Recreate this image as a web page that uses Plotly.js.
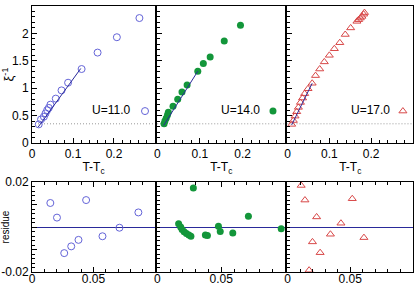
<!DOCTYPE html>
<html><head><meta charset="utf-8">
<script src="https://cdn.plot.ly/plotly-3.0.1.min.js"></script>
<style>body{margin:0;background:#fff;}#plot{width:415px;height:285px;}</style>
</head><body><div id="plot"></div>
<script>
// ---- data: inverse correlation length vs T-Tc ----
const u11_x = [0.0165, 0.022, 0.029, 0.033, 0.037, 0.041, 0.045, 0.058, 0.072, 0.088, 0.121, 0.160, 0.207, 0.262];
const u11_y = [0.34, 0.43, 0.48, 0.54, 0.60, 0.64, 0.70, 0.81, 0.96, 1.10, 1.35, 1.65, 1.93, 2.28];
const u14_x = [0.016, 0.018, 0.021, 0.024, 0.026, 0.037, 0.048, 0.058, 0.070, 0.095, 0.108, 0.124, 0.157, 0.195];
const u14_y = [0.35, 0.40, 0.45, 0.51, 0.56, 0.67, 0.80, 0.93, 1.06, 1.31, 1.45, 1.57, 1.86, 2.15];
const u17_x = [0.010, 0.014, 0.018, 0.022, 0.026, 0.031, 0.036, 0.041, 0.049, 0.059, 0.067, 0.077, 0.088, 0.100, 0.112, 0.125, 0.138, 0.151, 0.166, 0.170, 0.174, 0.178, 0.182, 0.184];
const u17_y = [0.34, 0.41, 0.49, 0.57, 0.65, 0.74, 0.82, 0.90, 0.99, 1.09, 1.23, 1.35, 1.48, 1.60, 1.72, 1.83, 1.98, 2.10, 2.22, 2.25, 2.28, 2.31, 2.35, 2.38];
// fit lines (endpoints)
const fit11_x = [0.015, 0.119]; const fit11_y = [0.29, 1.36];
const fit14_x = [0.015, 0.095]; const fit14_y = [0.32, 1.31];
const fit17_x = [0.010, 0.059]; const fit17_y = [0.33, 1.09];
// residues
const r11_x = [0.0149, 0.0203, 0.0262, 0.0319, 0.0378, 0.044, 0.0573, 0.0711, 0.0865];
const r11_y = [0.0107, 0.0042, -0.0116, -0.0086, -0.0057, 0.012, -0.0041, -0.0003, 0.0065];
const r14_x = [0.0167, 0.0183, 0.0194, 0.021, 0.0228, 0.0247, 0.0263, 0.0282, 0.0376, 0.0392, 0.0478, 0.0492, 0.059, 0.0712, 0.0968];
const r14_y = [0.0015, 0, -0.0011, -0.0021, -0.0029, -0.0035, -0.0041, 0.0174, -0.0035, -0.0038, 0.0003, -0.002, -0.0026, 0.0048, -0.0008];
const r17_x = [0.0109, 0.0139, 0.0232, 0.0516, 0.0426, 0.0342, 0.0609, 0.0199, 0.026, 0.0172];
const r17_y = [0.0185, 0.012, 0.0045, 0.0126, 0.0017, -0.0032, -0.0047, -0.0066, -0.0114, -0.0192];
const labels = ['U=11.0', 'U=14.0', 'U=17.0'];
const topXTicks = [0, 0.1, 0.2, 0.3], topXText = ['0', '0.1', '0.2', ''];
const topYTicks = [0, 0.5, 1, 1.5, 2, 2.5], topYText = ['0', '0.5', '1', '1.5', '2', '2.5'];
const botXTicks = [0, 0.05, 0.1], botXText = ['0', '0.05', ''];
const botYTicks = [-0.02, -0.01, 0, 0.01, 0.02], botYText = ['-0.02', '', '', '', '0.02'];
const critLevel = 0.35;

const blue = '#6464d8', green = '#13963a', red = '#d84848', navy = '#2a2a9a';
const mk11 = {symbol: 'circle-open', size: 7, color: blue, line: {width: 1}};
const mk14 = {symbol: 'circle', size: 7, color: green};
const mk17 = {symbol: 'triangle-up-open', size: 7, color: red, line: {width: 1}};

const traces = [
  {x: u11_x, y: u11_y, xaxis: 'x', yaxis: 'y', mode: 'markers', marker: mk11, name: '', legend: 'legend'},
  {x: fit11_x, y: fit11_y, xaxis: 'x', yaxis: 'y', mode: 'lines', line: {color: navy, width: 1}, showlegend: false},
  {x: u14_x, y: u14_y, xaxis: 'x2', yaxis: 'y2', mode: 'markers', marker: mk14, name: '', legend: 'legend2'},
  {x: fit14_x, y: fit14_y, xaxis: 'x2', yaxis: 'y2', mode: 'lines', line: {color: navy, width: 1}, showlegend: false},
  {x: u17_x, y: u17_y, xaxis: 'x3', yaxis: 'y3', mode: 'markers', marker: mk17, name: '', legend: 'legend3'},
  {x: fit17_x, y: fit17_y, xaxis: 'x3', yaxis: 'y3', mode: 'lines', line: {color: navy, width: 1}, showlegend: false},
  {x: r11_x, y: r11_y, xaxis: 'x4', yaxis: 'y4', mode: 'markers', marker: mk11, showlegend: false},
  {x: r14_x, y: r14_y, xaxis: 'x5', yaxis: 'y5', mode: 'markers', marker: mk14, showlegend: false},
  {x: r17_x, y: r17_y, xaxis: 'x6', yaxis: 'y6', mode: 'markers', marker: mk17, showlegend: false}
];

const fam = 'Liberation Sans, Arial, sans-serif';
const font = {family: fam, size: 12, color: '#000'};
const xd = [[0, 0.3228], [0.3287, 0.6648], [0.6706, 1]];
const topD = [0.485, 1], botD = [0, 0.338];
const legX = [0.2441, 0.580, 0.921];
const annX = [0.2625, 0.6037, 0.9449];

function ax(extra) {
  return Object.assign({
    showline: true, linecolor: '#000', linewidth: 1, mirror: true,
    ticks: 'inside', ticklen: 5, tickcolor: '#000', tickwidth: 1,
    showgrid: false, zeroline: false, tickfont: font, fixedrange: true
  }, extra);
}

const layout = {
  width: 415, height: 285,
  margin: {l: 32, r: 2, t: 6, b: 13, autoexpand: false},
  paper_bgcolor: '#fff', plot_bgcolor: '#fff',
  font: font, showlegend: true,
  shapes: [], annotations: []
};
for (let i = 0; i < 3; i++) {
  const s = i === 0 ? '' : String(i + 1);
  const b = String(i + 4);
  layout['xaxis' + s] = ax({domain: xd[i], anchor: 'y' + s, range: [0, 0.3],
    tickvals: topXTicks, ticktext: topXText,
    minor: {dtick: 0.02, ticklen: 3, ticks: 'inside', tickcolor: '#000'},
    title: {text: 'T-T<sub>c</sub>', font: font, standoff: 2}});
  layout['yaxis' + s] = ax({domain: topD, anchor: 'x' + s, range: [0, 2.5],
    tickvals: topYTicks, ticktext: topYText,
    showticklabels: i === 0,
    minor: {dtick: 0.1, ticklen: 3, ticks: 'inside', tickcolor: '#000'},
    title: i === 0 ? {text: 'ξ<sup>-1</sup>', font: {family: fam, size: 13}, standoff: 6} : undefined});
  layout['xaxis' + b] = ax({domain: xd[i], anchor: 'y' + b, range: [0, 0.1], mirror: 'ticks',
    tickvals: botXTicks, ticktext: botXText, ticklabelstandoff: -4,
    minor: {dtick: 0.01, ticklen: 3, ticks: 'inside', tickcolor: '#000'}});
  layout['yaxis' + b] = ax({domain: botD, anchor: 'x' + b, range: [-0.02, 0.02],
    tickvals: botYTicks, ticktext: botYText,
    showticklabels: i === 0, zeroline: true, zerolinecolor: navy, zerolinewidth: 1,
    minor: {dtick: 0.002, ticklen: 3, ticks: 'inside', tickcolor: '#000'},
    title: i === 0 ? {text: 'residue', font: {family: fam, size: 10}, standoff: 8} : undefined});
  layout.shapes.push({type: 'line', xref: 'x' + s + ' domain', yref: 'y' + s, x0: 0, x1: 1,
    y0: critLevel, y1: critLevel, line: {color: '#999', width: 1, dash: '1px,2px'}, layer: 'below'});
  const lg = i === 0 ? 'legend' : 'legend' + (i + 1);
  layout[lg] = {x: legX[i], xanchor: 'left', y: 0.605, yanchor: 'middle',
    bgcolor: 'rgba(0,0,0,0)', borderwidth: 0, font: font, itemwidth: 30};
  layout.annotations.push({xref: 'paper', yref: 'paper', x: annX[i], y: 0.609, xanchor: 'right', yanchor: 'middle',
    text: labels[i], showarrow: false, font: {family: fam, size: 12, color: '#000'}});
}

Plotly.newPlot('plot', traces, layout, {displayModeBar: false, staticPlot: true});
</script>
</body></html>
